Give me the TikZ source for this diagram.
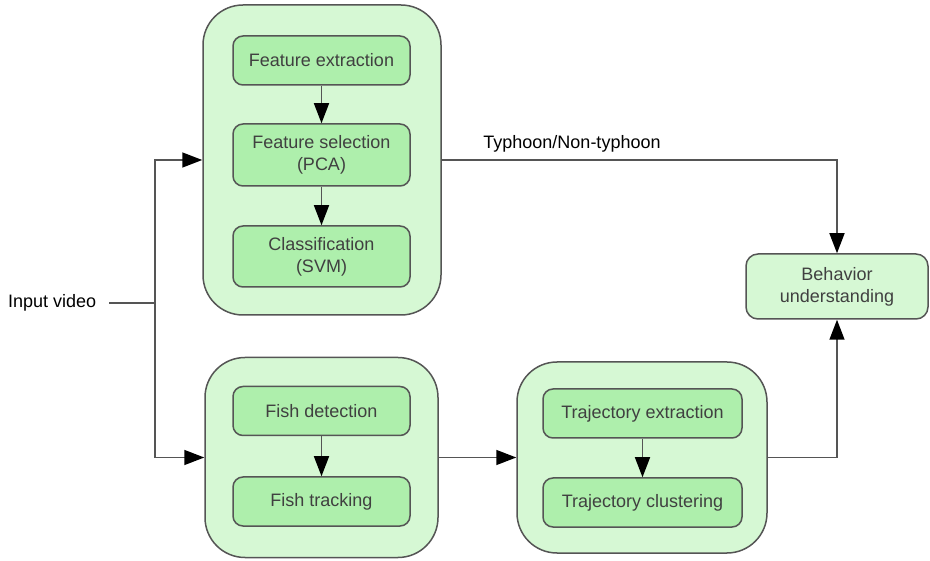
\documentclass[tikz,border=0pt]{standalone}
\usepackage{fontspec}
\setmainfont{Liberation Sans}
\usetikzlibrary{arrows.meta}
\definecolor{outerfill}{HTML}{D6F8D4}
\definecolor{innerfill}{HTML}{AEEFAC}
\definecolor{edgegray}{HTML}{555555}
\definecolor{boxtext}{HTML}{404040}
\begin{document}
\begin{tikzpicture}[x=1pt,y=-1pt,
  outerbox/.style={draw=edgegray, line width=1.5pt, fill=outerfill, rounded corners=40pt, inner sep=0pt},
  innerbox/.style={draw=edgegray, line width=1.5pt, fill=innerfill, rounded corners=10pt, minimum width=177pt, text=boxtext, align=center, inner sep=0pt},
  behbox/.style={draw=edgegray, line width=1.5pt, fill=outerfill, rounded corners=12pt, text=boxtext, align=center, inner sep=0pt},
  conn/.style={draw=edgegray, line width=1.5pt},
  arr/.style={conn, -{Triangle[length=20pt 0,width=15pt 0,fill=black,color=black]}},
  every node/.style={font=\fontsize{18}{22}\selectfont}
]
\useasboundingbox (0,0) rectangle (930,561);
% outer boxes
\node[outerbox, minimum width=238pt, minimum height=310pt] (top) at (322,160) {};
\node[outerbox, minimum width=233pt, minimum height=200pt] (bot) at (321.5,457.5) {};
\node[outerbox, minimum width=250pt, minimum height=191pt] (traj) at (642,457.5) {};
% inner boxes
\node[innerbox, minimum height=49pt] (fe) at (321.5,60.5) {Feature extraction};
\node[innerbox, minimum height=62pt] (fs) at (321.5,155) {Feature selection\\(PCA)};
\node[innerbox, minimum height=61pt] (cl) at (321.5,256.5) {Classification\\(SVM)};
\node[innerbox, minimum height=49pt] (fd) at (321.5,411) {Fish detection};
\node[innerbox, minimum height=49pt] (ft) at (321.5,501.5) {Fish tracking};
\node[innerbox, minimum width=199pt, minimum height=49pt] (te) at (642.5,413.5) {Trajectory extraction};
\node[innerbox, minimum width=199pt, minimum height=49pt] (tc) at (642.5,502.5) {Trajectory clustering};
\node[behbox, minimum width=182pt, minimum height=65pt] (beh) at (837,286.5) {Behavior\\understanding};
% labels
\node[anchor=west, inner sep=0pt] (in) at (8,303) {Input video};
\node[inner sep=0pt] (lab) at (572,144) {Typhoon/Non-typhoon};
\coordinate (j) at (155,303);
% connectors
\draw[arr] (fe) -- (fs);
\draw[arr] (fs) -- (cl);
\draw[arr] (fd) -- (ft);
\draw[arr] (te) -- (tc);
\draw[conn] ([xshift=13pt]in.east) -- (j);
\draw[arr] (j) |- (top.west);
\draw[arr] (j) |- (bot.west);
\draw[arr] (bot.east) -- (traj.west);
\draw[arr] (traj.east) -| (beh.south);
\draw[arr] (top.east) -| (beh.north);
\end{tikzpicture}
\end{document}
